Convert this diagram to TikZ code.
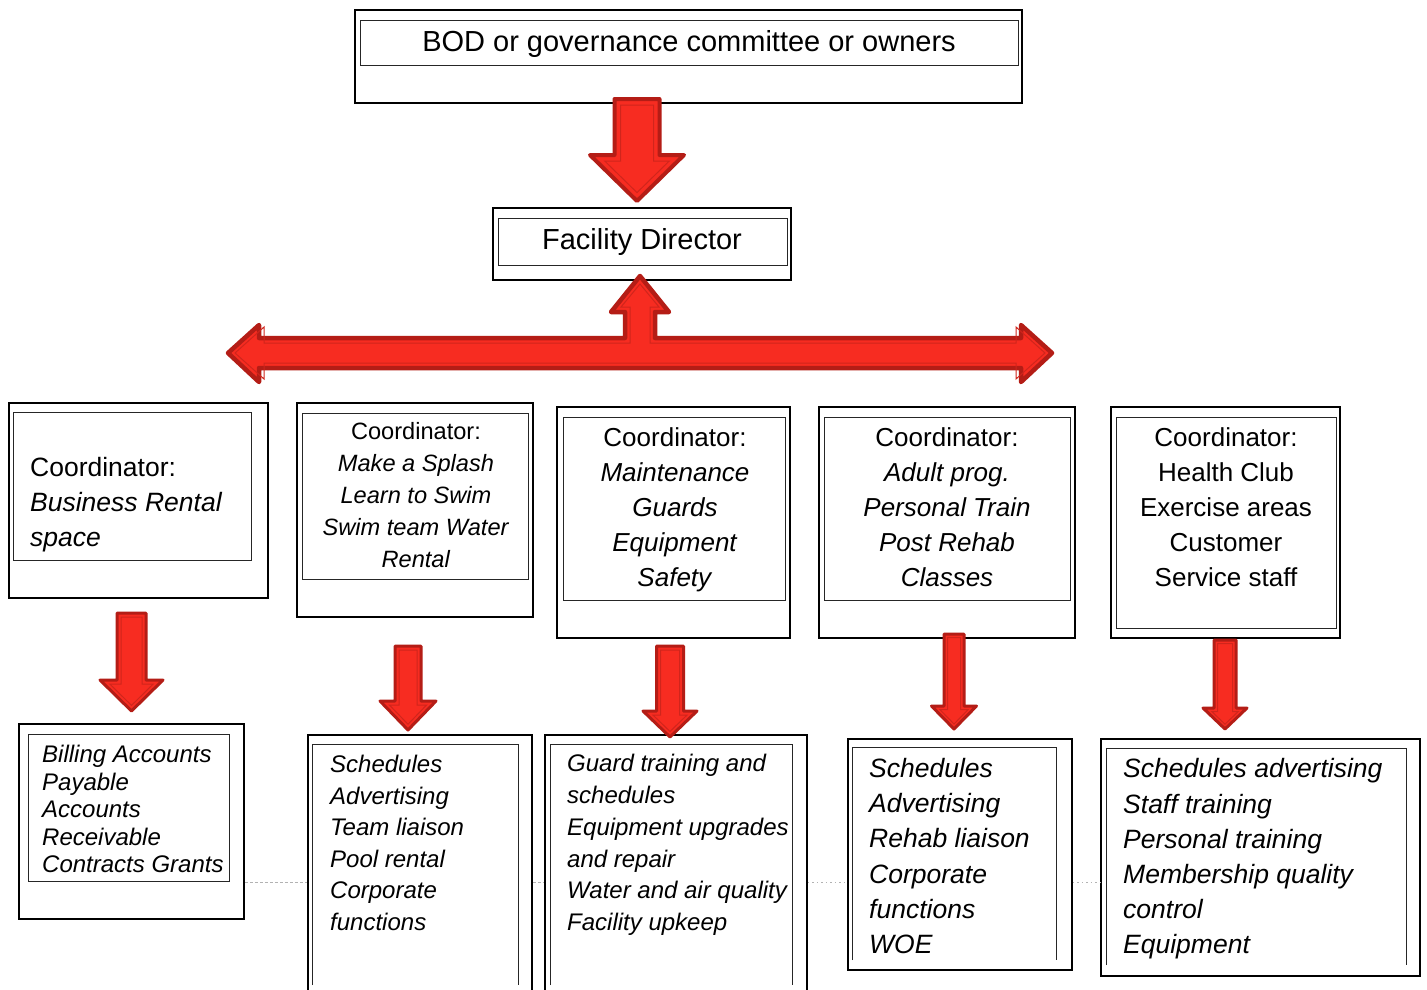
\documentclass[tikz,border=0pt]{standalone}
\usepackage{fontspec}
\setmainfont{Liberation Sans}
\usetikzlibrary{fit}
\definecolor{arrfill}{HTML}{F72C21}
\definecolor{arrdark}{HTML}{B41D16}
\definecolor{arrline}{HTML}{D0251C}
\newcommand\blockdown[8]{% cx, top, shaft half, head half, head base, tip, border, inset
  \pgfmathsetmacro\bdH{#6-#5}%
  \pgfmathsetmacro\bdL{sqrt((#4)^2+(\bdH)^2)}%
  \pgfmathsetmacro\bdih{#4*(\bdH-#8)/\bdH-#8*\bdL/\bdH}%
  \pgfmathsetmacro\bdit{#6-#8*\bdL/#4}%
  \filldraw[arrowbody, line width=#7] (#1-#3,#2) -- (#1+#3,#2) -- (#1+#3,#5) -- (#1+#4,#5) -- (#1,#6) -- (#1-#4,#5) -- (#1-#3,#5) -- cycle;
  \draw[arrowinner] (#1-#3+#8,#2+#8) -- (#1+#3-#8,#2+#8) -- (#1+#3-#8,#5+#8) -- (#1+\bdih,#5+#8) -- (#1,\bdit) -- (#1-\bdih,#5+#8) -- (#1-#3+#8,#5+#8) -- cycle;
}
\tikzset{
  outerbox/.style={draw=black, line width=1.8pt, fill=white, inner sep=0pt},
  innerbox/.style={draw=black!85, line width=1pt, inner sep=0pt},
  openbox/.style={draw=none, inner sep=0pt},
  innerline/.style={draw=black!85, line width=1pt},
  arrowbody/.style={fill=arrfill, draw=arrdark, line join=round},
  arrowinner/.style={draw=arrline, line width=1pt, line join=miter},
  guide/.style={draw=black!30, line width=0.8pt, dash pattern=on 3pt off 2pt},
  txt/.style={inner sep=0pt, text=black},
}
\begin{document}
\begin{tikzpicture}[x=1pt,y=-1pt]
\useasboundingbox (0,0) rectangle (1427,989);
\fill[white] (0,0) rectangle (1427,989);
\clip (0,0) rectangle (1427,989);

% faint guide line behind bottom boxes
\coordinate (gy) at (0,882);

% top boxes
\node[outerbox, fit={(355,10) (1022,103)}] (bod) {};
\node[innerbox, fit={(360,20) (1018,65)}] (bodi) {};
\node[txt, font=\fontsize{29}{35}\selectfont] (bodt) at (689,44) {BOD or governance committee or owners};

\node[outerbox, fit={(493,208) (791,280)}] (fd) {};
\node[innerbox, fit={(498,218) (787,265)}] (fdi) {};
\node[txt, font=\fontsize{29}{35}\selectfont] (fdt) at (642,242) {Facility Director};

% coordinator boxes
\node[outerbox, fit={(9,403) (268,598)}] (c1) {};
\node[innerbox, fit={(13,412) (251,560)}] (c1i) {};
\node[txt, anchor=west, align=left, font=\fontsize{26.5}{35}\selectfont] (c1t) at (30,505)
  {Coordinator:\\\textit{Business Rental}\\\textit{space}};

\node[outerbox, fit={(297,403) (533,617)}] (c2) {};
\node[innerbox, fit={(302,413) (528,579)}] (c2i) {};
\node[txt, align=center, font=\fontsize{23.6}{32}\selectfont] (c2t) at (416,495)
  {Coordinator:\\\textit{Make a Splash}\\\textit{Learn to Swim}\\\textit{Swim team Water}\\\textit{Rental}};

\node[outerbox, fit={(557,407) (790,638)}] (c3) {};
\node[innerbox, fit={(563,417) (785,600)}] (c3i) {};
\node[txt, align=center, font=\fontsize{26}{35}\selectfont] (c3t) at (675,510)
  {Coordinator:\\\textit{Maintenance}\\\textit{Guards}\\\textit{Equipment}\\\textit{Safety}};

\node[outerbox, fit={(819,407) (1075,638)}] (c4) {};
\node[innerbox, fit={(824,417) (1070,600)}] (c4i) {};
\node[txt, align=center, font=\fontsize{26}{35}\selectfont] (c4t) at (947,507)
  {Coordinator:\\\textit{Adult prog.}\\\textit{Personal Train}\\\textit{Post Rehab}\\\textit{Classes}};

\node[outerbox, fit={(1111,407) (1340,638)}] (c5) {};
\node[innerbox, fit={(1116,417) (1336,628)}] (c5i) {};
\node[txt, align=center, font=\fontsize{26}{35}\selectfont] (c5t) at (1226,507)
  {Coordinator:\\Health Club\\Exercise areas\\Customer\\Service staff};

% bottom boxes
\node[outerbox, fit={(19,724) (244,919)}] (b1) {};
\node[outerbox, fit={(308,735) (532,995)}] (b2) {};
\node[outerbox, fit={(545,735) (807,995)}] (b3) {};
\node[outerbox, fit={(848,739) (1072,970)}] (b4) {};
\node[outerbox, fit={(1101,739) (1420,976)}] (b5) {};
\draw[guide] (b1.east |- gy) -- (b2.west |- gy);
\draw[guide] (b2.east |- gy) -- (b3.west |- gy);
\draw[guide, dash pattern=on 1.5pt off 3pt] (b3.east |- gy) -- (b4.west |- gy);
\draw[guide, dash pattern=on 1.5pt off 3pt] (b4.east |- gy) -- (b5.west |- gy);

\node[innerbox, fit={(28,734) (229,881)}] (b1i) {};
\node[txt, anchor=west, align=left, font=\fontsize{24}{27.5}\selectfont] (b1t) at (42,809)
  {\textit{Billing Accounts}\\\textit{Payable}\\\textit{Accounts}\\\textit{Receivable}\\\textit{Contracts Grants}};

\node[openbox, fit={(313,745) (518,985)}] (b2i) {};
\draw[innerline] (b2i.south west) -- (b2i.north west) -- (b2i.north east) -- (b2i.south east);
\node[txt, anchor=west, align=left, font=\fontsize{24}{31.6}\selectfont] (b2t) at (330,843)
  {\textit{Schedules}\\\textit{Advertising}\\\textit{Team liaison}\\\textit{Pool rental}\\\textit{Corporate}\\\textit{functions}};

\node[openbox, fit={(551,745) (792,985)}] (b3i) {};
\draw[innerline] (b3i.south west) -- (b3i.north west) -- (b3i.north east) -- (b3i.south east);
\node[txt, anchor=west, align=left, font=\fontsize{24}{31.8}\selectfont] (b3t) at (567,845)
  {\textit{Guard training and}\\\textit{schedules}\\\textit{Equipment upgrades}\\\textit{and repair}\\\textit{Water and air quality}\\\textit{Facility upkeep}};

\node[openbox, fit={(853,748) (1056,960)}] (b4i) {};
\draw[innerline] (b4i.south west) -- (b4i.north west) -- (b4i.north east) -- (b4i.south east);
\node[txt, anchor=west, align=left, font=\fontsize{26.5}{35.2}\selectfont] (b4t) at (869,856)
  {\textit{Schedules}\\\textit{Advertising}\\\textit{Rehab liaison}\\\textit{Corporate}\\\textit{functions}\\\textit{WOE}};

\node[openbox, fit={(1107,749) (1406,965)}] (b5i) {};
\draw[innerline] (b5i.south west) -- (b5i.north west) -- (b5i.north east) -- (b5i.south east);
\node[txt, anchor=west, align=left, font=\fontsize{26.5}{35.2}\selectfont] (b5t) at (1123,859)
  {\textit{Schedules advertising}\\\textit{Staff training}\\\textit{Personal training}\\\textit{Membership quality}\\\textit{control}\\\textit{Equipment}};

% block arrows
\blockdown{637}{99}{22.5}{47}{155}{201}{4pt}{6}
\blockdown{131.5}{613}{14.5}{31.5}{680}{711}{3pt}{4}
\blockdown{408}{646}{13}{28}{701}{730}{3pt}{4}
\blockdown{670}{646}{13.5}{27}{711}{737}{3pt}{4}
\blockdown{954}{634}{10}{22.5}{706}{729}{3pt}{3.5}
\blockdown{1225}{640}{11}{22}{708}{729}{3pt}{3.5}

% T-shaped distribution arrow from Facility Director
\filldraw[arrowbody, line width=4.5pt]
  (228,353) -- (259,325) -- (259,338) -- (625,338) -- (625,312) -- (611,312) -- (640,276)
  -- (669,312) -- (655,312) -- (655,338) -- (1021,338) -- (1021,325) -- (1052,353)
  -- (1021,382) -- (1021,368) -- (259,368) -- (259,382) -- cycle;
\draw[arrowinner]
  (235,353) -- (264,327) -- (264,343) -- (630,343) -- (630,307) -- (621,307) -- (640,284)
  -- (659,307) -- (650,307) -- (650,343) -- (1016,343) -- (1016,327) -- (1045,353)
  -- (1016,379) -- (1016,363) -- (264,363) -- (264,379) -- cycle;
\end{tikzpicture}
\end{document}
